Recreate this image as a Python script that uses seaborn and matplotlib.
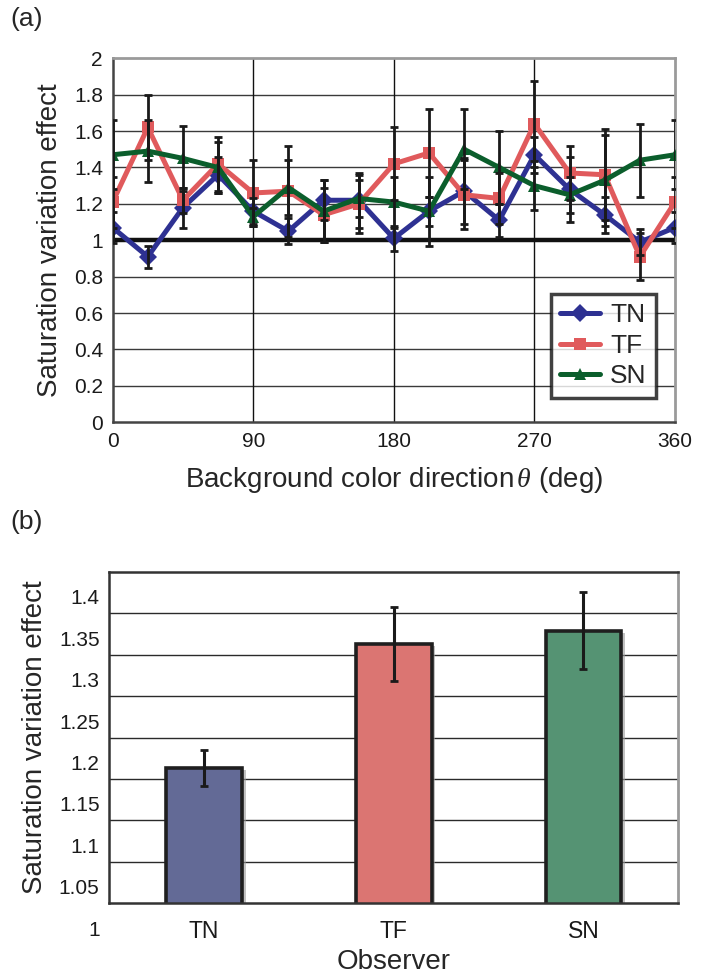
import numpy as np
import pandas as pd
import matplotlib
matplotlib.use("Agg")
import matplotlib.pyplot as plt
import matplotlib.patheffects as pe
import seaborn as sns
from matplotlib.transforms import ScaledTranslation
from matplotlib.lines import Line2D

# ---------------- data ----------------
theta = [0, 22.5, 45, 67.5, 90, 112.5, 135, 157.5, 180, 202.5, 225, 247.5, 270, 292.5, 315, 337.5, 360]
tn = [1.07, 0.91, 1.18, 1.36, 1.16, 1.05, 1.22, 1.22, 1.01, 1.16, 1.27, 1.11, 1.47, 1.28, 1.14, 0.99, 1.07]
tf = [1.21, 1.62, 1.22, 1.42, 1.26, 1.27, 1.14, 1.20, 1.42, 1.48, 1.25, 1.23, 1.64, 1.37, 1.36, 0.91, 1.21]
sn = [1.47, 1.49, 1.45, 1.40, 1.13, 1.29, 1.16, 1.23, 1.21, 1.16, 1.50, 1.40, 1.30, 1.25, 1.33, 1.44, 1.47]
tn_err = [0.085, 0.06, 0.11, 0.10, 0.07, 0.07, 0.11, 0.15, 0.07, 0.08, 0.18, 0.09, 0.10, 0.18, 0.10, 0.07, 0.085]
tf_err = [0.14, 0.18, 0.07, 0.15, 0.18, 0.25, 0.15, 0.16, 0.20, 0.24, 0.19, 0.14, 0.235, 0.15, 0.25, 0.13, 0.14]
sn_err = [0.19, 0.17, 0.18, 0.14, 0.05, 0.15, 0.17, 0.10, 0.14, 0.19, 0.22, 0.20, 0.135, 0.10, 0.25, 0.20, 0.19]

observers = ["TN", "TF", "SN"]
obs_mean = [1.163, 1.313, 1.329]
obs_err = [0.022, 0.045, 0.046]

y_ticks_a = [0, 0.2, 0.4, 0.6, 0.8, 1, 1.2, 1.4, 1.6, 1.8, 2]
x_ticks_a = [0, 90, 180, 270, 360]
y_ticks_b = [1.0, 1.05, 1.1, 1.15, 1.2, 1.25, 1.3, 1.35, 1.4]

line_colors = {"TN": "#2e3192", "TF": "#e05a5c", "SN": "#0b5e2c"}
bar_colors = {"TN": "#636a96", "TF": "#db7572", "SN": "#559373"}
markers = {"TN": "D", "TF": "s", "SN": "^"}

# ---------------- style ----------------
sns.set_style("white")
plt.rcParams["font.family"] = ["Liberation Sans", "DejaVu Sans"]
plt.rcParams["mathtext.fontset"] = "custom"
plt.rcParams["mathtext.it"] = "Liberation Serif:italic"

fig = plt.figure(figsize=(7.13, 9.75), dpi=100)
ax1 = fig.add_axes([0.158, 0.5669, 0.7887, 0.3733])
ax2 = fig.add_axes([0.1533, 0.0735, 0.798, 0.3401])

# ---------------- panel (a) ----------------
df = pd.DataFrame({
    "theta": theta * 3,
    "value": tn + tf + sn,
    "err": tn_err + tf_err + sn_err,
    "Observer": ["TN"] * len(theta) + ["TF"] * len(theta) + ["SN"] * len(theta),
})

for yv in y_ticks_a[1:-1]:
    ax1.axhline(yv, color="#3a3a3a", lw=1.0, zorder=0.5)
for xv in x_ticks_a[1:-1]:
    ax1.axvline(xv, color="#111111", lw=1.0, zorder=0.5)
ax1.axhline(1.0, color="#111111", lw=3.2, zorder=1)

sns.lineplot(data=df, x="theta", y="value", hue="Observer", style="Observer",
             hue_order=observers, style_order=observers,
             palette=line_colors, markers=markers, dashes=False,
             linewidth=3.6, markersize=9, markeredgewidth=0,
             legend=False, ax=ax1, zorder=3)

for name in observers:
    sub = df[df["Observer"] == name]
    ax1.errorbar(sub["theta"], sub["value"], yerr=sub["err"], fmt="none",
                 ecolor="#1a1a1a", elinewidth=2.0, capsize=3.2, capthick=2.0, zorder=4)

ax1.set_xlim(0, 360)
ax1.set_ylim(0, 2)
ax1.set_xticks(x_ticks_a)
ax1.set_xticklabels([str(v) for v in x_ticks_a])
ax1.set_yticks(y_ticks_a)
ax1.set_yticklabels([("%g" % v) for v in y_ticks_a])
ax1.tick_params(axis="both", length=0, labelsize=15, pad=7, colors="#1a1a1a")
ax1.set_xlabel(r"Background color direction$\,\mathit{\theta}$ (deg)", fontsize=20, labelpad=10)
ax1.set_ylabel("Saturation variation effect", fontsize=20, labelpad=8)
for s in ["left", "bottom"]:
    ax1.spines[s].set_color("#444444")
    ax1.spines[s].set_linewidth(1.8)
for s in ["top", "right"]:
    ax1.spines[s].set_color("#9a9a9a")
    ax1.spines[s].set_linewidth(2.0)

handles = [Line2D([0], [0], color=line_colors[n], marker=markers[n], lw=3.6,
                  markersize=9, markeredgewidth=0, label=n) for n in observers]
leg = ax1.legend(handles=handles, loc="upper right", bbox_to_anchor=(0.966, 0.3525),
                 fontsize=19, frameon=True, fancybox=False, handlelength=1.5,
                 handletextpad=0.4, borderpad=0.35, labelspacing=0.25, borderaxespad=0)
leg.get_frame().set_edgecolor("#111111")
leg.get_frame().set_linewidth(2.5)
leg.set_zorder(6)

fig.text(0.014, 0.981, "(a)", fontsize=19, va="center", ha="left")

# ---------------- panel (b) ----------------
dfb = pd.DataFrame({"Observer": observers, "mean": obs_mean, "err": obs_err})

for yv in y_ticks_b[1:-1]:
    ax2.axhline(yv, color="#2a2a2a", lw=1.0, zorder=0.5)

sns.barplot(data=dfb, x="Observer", y="mean", hue="Observer", order=observers,
            palette=bar_colors, saturation=1, width=0.4, edgecolor="#1f1f1f", linewidth=2.6,
            legend=False, ax=ax2, zorder=2)
for patch in ax2.patches:
    patch.set_path_effects([pe.SimplePatchShadow(offset=(2.5, -1.5), shadow_rgbFace="#9a9a9a", alpha=0.6),
                            pe.Normal()])
ax2.errorbar(np.arange(len(observers)), dfb["mean"], yerr=dfb["err"], fmt="none",
             ecolor="#1a1a1a", elinewidth=2.2, capsize=3.2, capthick=2.0, zorder=4)

ax2.set_xlim(-0.5, 2.5)
ax2.set_ylim(1.0, 1.4)
ax2.set_yticks(y_ticks_b)
ax2.set_yticklabels([("%g" % v) for v in y_ticks_b])
ax2.set_xticks([0.5, 1.5], minor=True)
ax2.tick_params(axis="x", which="minor", direction="in", length=4, width=1, colors="#333333")
ax2.tick_params(axis="y", which="major", length=0, labelsize=15, colors="#1a1a1a", pad=7)
ax2.tick_params(axis="x", which="major", length=0, labelsize=16.5, colors="#1a1a1a", pad=12)
ax2.set_xlabel("Observer", fontsize=20, labelpad=4)
ax2.set_ylabel("Saturation variation effect", fontsize=20, labelpad=8)
for s in ["left", "bottom", "top"]:
    ax2.spines[s].set_color("#333333")
    ax2.spines[s].set_linewidth(1.8)
ax2.spines["right"].set_color("#9a9a9a")
ax2.spines["right"].set_linewidth(2.0)

# tick labels of panel (b) sit below their grid lines, as in the original
offset = ScaledTranslation(0, -0.25, fig.dpi_scale_trans)
for lab in ax2.get_yticklabels():
    lab.set_transform(lab.get_transform() + offset)

fig.text(0.014, 0.465, "(b)", fontsize=19, va="center", ha="left")

fig.savefig("out.png", dpi=100)
